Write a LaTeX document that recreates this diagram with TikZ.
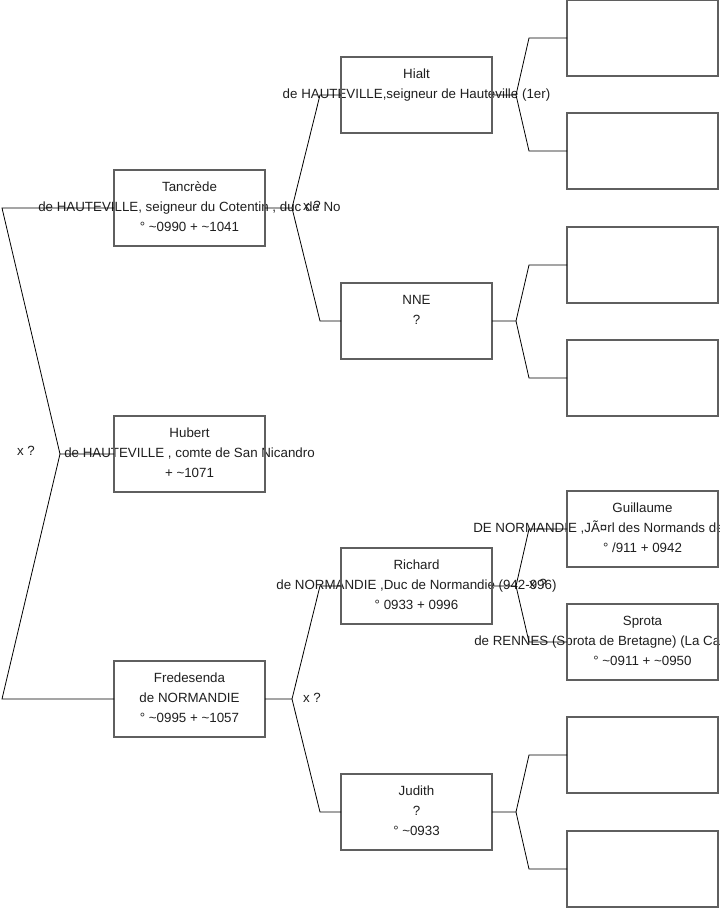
\documentclass[tikz,border=0pt]{standalone}
\usepackage{fontspec}
\setmainfont{Liberation Sans}
\usetikzlibrary{calc}
\definecolor{boxgray}{RGB}{95,95,95}
\begin{document}
\begin{tikzpicture}[x=0.75pt,y=-0.75pt,
  pbox/.style={draw=boxgray,line width=0.9pt,minimum width=113.25pt,minimum height=57pt,inner sep=0pt,outer sep=0pt},
  ln/.style={anchor=base,inner sep=0pt,font=\fontsize{10}{12}\selectfont,text=black!88},
  lnw/.style={ln,anchor=base west},
  mar/.style={anchor=center,inner sep=0pt,font=\fontsize{10}{12}\selectfont,text=black!88},
  conn/.style={draw=black,line width=0.6pt}]
\useasboundingbox (0,0) rectangle (719,908);
\clip (0,0) rectangle (719,908);
\fill[white] (0,0) rectangle (719,908);
% ---- texts
\node[ln] (tanA) at (189.5,191) {Tancrède};
\node[ln] (tanB) at (189.5,211.3) {de HAUTEVILLE, seigneur du Cotentin , duc de No};
\node[ln] (tanC) at (189.5,231.6) {° \textasciitilde0990 + \textasciitilde1041};
\node[ln] (hubA) at (189.5,437) {Hubert};
\node[ln] (hubB) at (189.5,457.3) {de HAUTEVILLE , comte de San Nicandro};
\node[ln] (hubC) at (189.5,477.6) {+ \textasciitilde1071};
\node[ln] (freA) at (189.5,682) {Fredesenda};
\node[ln] (freB) at (189.5,702.3) {de NORMANDIE};
\node[ln] (freC) at (189.5,722.6) {° \textasciitilde0995 + \textasciitilde1057};
\node[ln] (hiaA) at (416.5,78) {Hialt};
\node[ln] (hiaB) at (416.5,98.3) {de HAUTEVILLE,seigneur de Hauteville (1er)};
\node[ln] (nneA) at (416.5,304) {NNE};
\node[ln] (nneB) at (416.5,324.3) {?};
\node[ln] (ricA) at (416.5,569) {Richard};
\node[ln] (ricB) at (416.5,589.3) {de NORMANDIE ,Duc de Normandie (942-996)};
\node[ln] (ricC) at (416.5,609.6) {° 0933 + 0996};
\node[ln] (judA) at (416.5,795) {Judith};
\node[ln] (judB) at (416.5,815.3) {?};
\node[ln] (judC) at (416.5,835.6) {° \textasciitilde0933};
\node[ln] (guiA) at (642.5,512) {Guillaume};
\node[lnw] (guiB) at (473,532.3) {DE NORMANDIE ,JÃ¤rl des Normands de};
\node[ln] (guiC) at (642.5,552.6) {° /911 + 0942};
\node[ln] (sprA) at (642.5,625) {Sprota};
\node[lnw] (sprB) at (474,645.3) {de RENNES (Sprota de Bretagne) (La Ca};
\node[ln] (sprC) at (642.5,665.6) {° \textasciitilde0911 + \textasciitilde0950};
% ---- marriage labels
\node[mar] (mroot) at (26,451) {x ?};
\node[mar] (mtan) at (312,206) {x ?};
\node[mar] (mfre) at (312,698) {x ?};
\node[mar] (mric) at (538,584) {x ?};
% ---- boxes
\node[pbox] (tan) at (189.5,208) {};
\node[pbox] (hub) at (189.5,454) {};
\node[pbox] (fre) at (189.5,699) {};
\node[pbox] (hia) at (416.5,95) {};
\node[pbox] (nne) at (416.5,321) {};
\node[pbox] (ric) at (416.5,586) {};
\node[pbox] (jud) at (416.5,812) {};
\node[pbox] (r1) at (642.5,38) {};
\node[pbox] (r2) at (642.5,151) {};
\node[pbox] (r3) at (642.5,265) {};
\node[pbox] (r4) at (642.5,378) {};
\node[pbox] (gui) at (642.5,529) {};
\node[pbox] (spr) at (642.5,642) {};
\node[pbox] (r7) at (642.5,755) {};
\node[pbox] (r8) at (642.5,869) {};
% ---- connectors
\coordinate (jr) at (60,454);
\coordinate (jra) at (2,208);
\coordinate (jrb) at (2,699);
\draw[conn] (hub.west) -- (jr) -- (jra) -- (tan.west);
\draw[conn] (jr) -- (jrb) -- (fre.west);
% Tancrede
\draw[conn] (tan.east) -- ++(27,0) coordinate (jt) -- ($(hia.west)+(-21,0)$) -- (hia.west);
\draw[conn] (jt) -- ($(nne.west)+(-21,0)$) -- (nne.west);
% Fredesenda
\draw[conn] (fre.east) -- ++(27,0) coordinate (jf) -- ($(ric.west)+(-21,0)$) -- (ric.west);
\draw[conn] (jf) -- ($(jud.west)+(-21,0)$) -- (jud.west);
% Hialt
\draw[conn] (hia.east) -- ++(24,0) coordinate (jh) -- ($(r1.west)+(-38,0)$) -- (r1.west);
\draw[conn] (jh) -- ($(r2.west)+(-38,0)$) -- (r2.west);
% NNE
\draw[conn] (nne.east) -- ++(24,0) coordinate (jn) -- ($(r3.west)+(-38,0)$) -- (r3.west);
\draw[conn] (jn) -- ($(r4.west)+(-38,0)$) -- (r4.west);
% Richard
\draw[conn] (ric.east) -- ++(24,0) coordinate (jc) -- ($(gui.west)+(-38,0)$) -- (gui.west);
\draw[conn] (jc) -- ($(spr.west)+(-38,0)$) -- (spr.west);
% Judith
\draw[conn] (jud.east) -- ++(24,0) coordinate (jj) -- ($(r7.west)+(-38,0)$) -- (r7.west);
\draw[conn] (jj) -- ($(r8.west)+(-38,0)$) -- (r8.west);
\end{tikzpicture}
\end{document}
